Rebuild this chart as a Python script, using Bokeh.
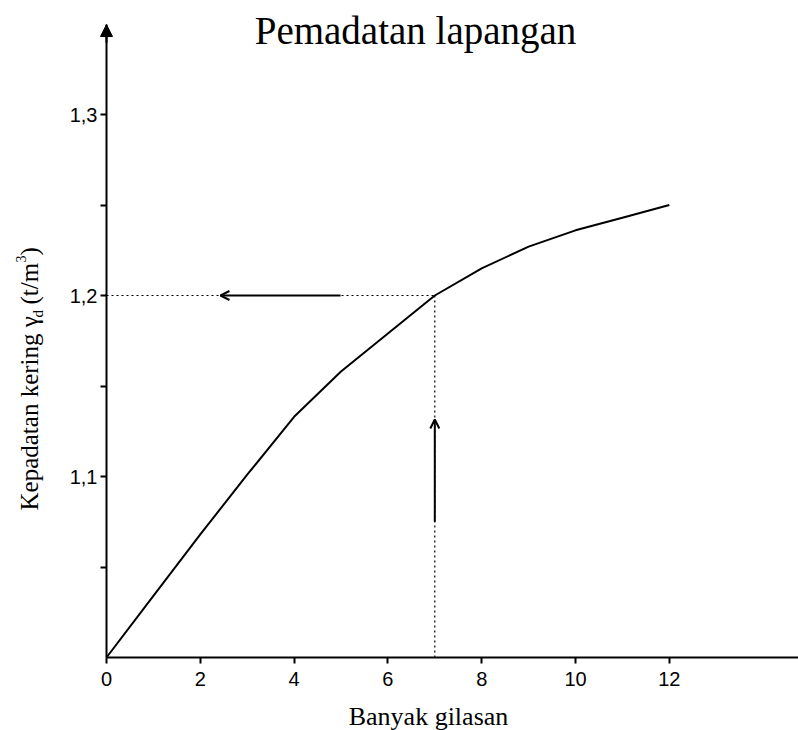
from bokeh.plotting import figure
from bokeh.models import Arrow, NormalHead, OpenHead, Label, FixedTicker, Range1d
from bokeh.embed import file_html
from bokeh.resources import INLINE
import math

# ---- data ----
passes = [0, 1, 2, 3, 4, 5, 6, 7, 8, 9, 10, 11, 12]
density = [1.0, 1.034, 1.068, 1.101, 1.133, 1.158, 1.179, 1.2, 1.215, 1.227, 1.236, 1.243, 1.25]
x_ticks = [0, 2, 4, 6, 8, 10, 12]
y_ticks = [1.05, 1.1, 1.15, 1.2, 1.25, 1.3]
y_tick_labels = {1.05: "", 1.1: "1,1", 1.15: "", 1.2: "1,2", 1.25: "", 1.3: "1,3"}
target_passes = 7
target_density = 1.2
title_text = "Pemadatan lapangan"
x_label = "Banyak gilasan"
y_label_main = "Kepadatan kering γ"
y_label_sub = "d"
y_label_unit = "(t/m"
y_label_sup = "3"
y_label_end = ")"

SERIF = "Liberation Serif"
SANS = "Liberation Sans"

W, H = 798, 730
OX, OY = 106, 657           # page pixel of the origin (0, 1.0)
PX_X, PX_Y = 46.9, 1810.0   # pixels per data unit

def dx(px):
    return (px - OX) / PX_X

def dy(py):
    return 1.0 + (OY - py) / PX_Y

X_END = dx(W)
Y_TOP = 1.3497

p = figure(width=W, height=H, output_backend="svg", toolbar_location=None,
           x_range=Range1d(dx(0), dx(W)), y_range=Range1d(dy(H), dy(0)))
p.min_border = 0
p.grid.visible = False
p.outline_line_color = None
p.background_fill_color = "white"
p.border_fill_color = "white"

# x axis through the origin
xa = p.xaxis[0]
xa.fixed_location = 1.0
xa.bounds = (0, X_END)
xa.ticker = FixedTicker(ticks=x_ticks)
xa.axis_line_width = 2
xa.axis_line_color = "black"
xa.major_tick_in = 0
xa.major_tick_out = 6
xa.major_tick_line_width = 2
xa.minor_tick_line_color = None
xa.major_label_text_font = SANS
xa.major_label_text_font_size = "20px"
xa.major_label_text_color = "black"
xa.major_label_standoff = 8

# y axis through the origin
ya = p.yaxis[0]
ya.fixed_location = 0
ya.bounds = (1.0, Y_TOP)
ya.ticker = FixedTicker(ticks=y_ticks)
ya.major_label_overrides = y_tick_labels
ya.axis_line_width = 2
ya.axis_line_color = "black"
ya.major_tick_in = 0
ya.major_tick_out = 6
ya.major_tick_line_width = 2
ya.minor_tick_line_color = None
ya.major_label_text_font = SANS
ya.major_label_text_font_size = "20px"
ya.major_label_text_color = "black"
ya.major_label_standoff = 3

# arrowhead on the y axis
p.add_layout(Arrow(x_start=0, y_start=Y_TOP - 0.01, x_end=0, y_end=Y_TOP,
                   line_width=2, line_color="black",
                   end=NormalHead(size=12, fill_color="black", line_color="black", line_width=1)))

# curve
p.line(passes, density, line_width=2, line_color="black")

# dotted guides
p.line([0, target_passes], [target_density, target_density], line_dash="2 3",
       line_width=1.2, line_color="black")
p.line([target_passes, target_passes], [1.0, target_density], line_dash="2 3",
       line_width=1.2, line_color="black")

# arrows
p.add_layout(Arrow(x_start=4.99, y_start=target_density, x_end=2.43, y_end=target_density,
                   line_width=2, line_color="black",
                   end=OpenHead(size=9, line_width=2, line_color="black")))
p.add_layout(Arrow(x_start=target_passes, y_start=1.075, x_end=target_passes, y_end=1.1315,
                   line_width=2, line_color="black",
                   end=OpenHead(size=9, line_width=2, line_color="black")))

# title
p.add_layout(Label(x=dx(415), y=dy(30), text=title_text,
                   text_align="center", text_baseline="alphabetic", text_font=SERIF,
                   text_font_size="39px", text_color="black"))
# x label
p.add_layout(Label(x=dx(428), y=dy(716), text=x_label,
                   text_align="center", text_baseline="alphabetic", text_font=SERIF,
                   text_font_size="26px", text_color="black"))

# y label pieces (rotated)
rot = math.pi / 2
def ylab(text, px, py, size):
    p.add_layout(Label(x=dx(px), y=dy(py), text=text, angle=rot, text_align="left",
                       text_baseline="alphabetic", text_font=SERIF,
                       text_font_size=size, text_color="black"))

ylab(y_label_main, 29, 510, "25px")
ylab(y_label_sub, 37, 317, "15px")
ylab(y_label_unit, 29, 304, "25px")
ylab(y_label_sup, 20, 262, "14px")
ylab(y_label_end, 29, 255, "25px")

open("out.html", "w").write(file_html(p, INLINE))
